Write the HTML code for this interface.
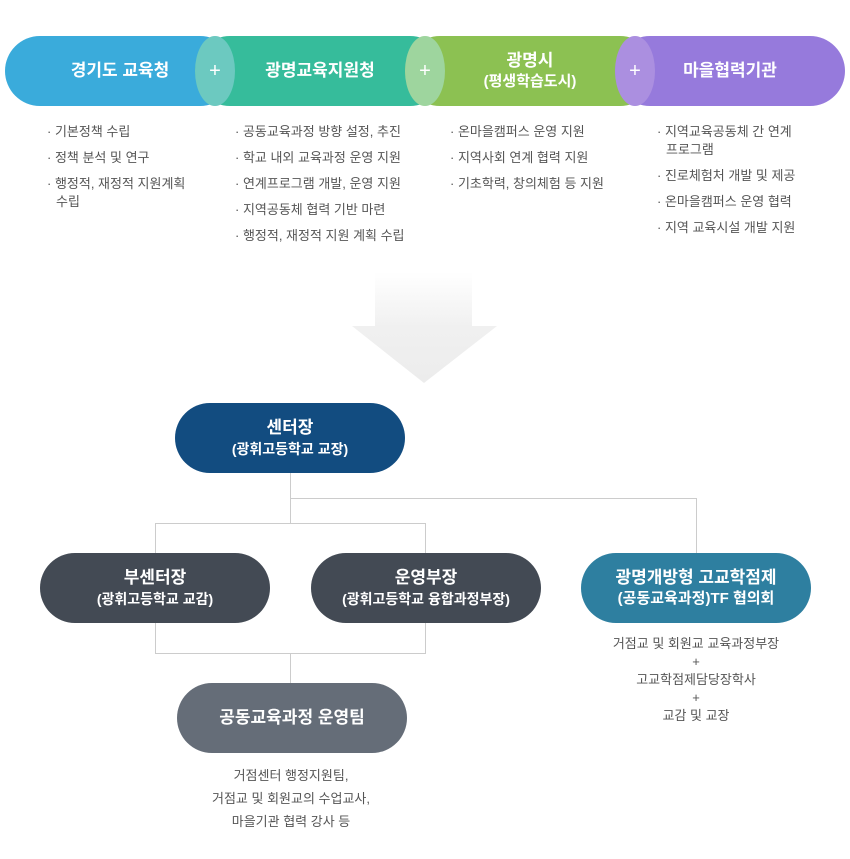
<!DOCTYPE html>
<html><head><meta charset="utf-8"><style>
body{margin:0;width:850px;height:859px;background:#fff;position:relative;font-family:"Liberation Sans","Noto Sans CJK KR",sans-serif;overflow:hidden}
.p{position:absolute;height:70px;border-radius:35px;color:#fff;font-weight:bold;display:flex;flex-direction:column;align-items:center;justify-content:center;text-align:center;font-size:17px;line-height:22px}
.p small{font-size:14px;display:block;line-height:20px}
.o{position:absolute;width:40px;height:70px;top:36px;border-radius:20px/35px;color:#fff;font-size:20px;display:flex;align-items:center;justify-content:center}
ul{position:absolute;margin:0;padding:0;list-style:none;font-size:13px;color:#555;line-height:18px;word-break:keep-all}
ul li{padding-left:9px;text-indent:-9px;margin-bottom:8px}
.l{position:absolute;background:#ccc}
.t{position:absolute;font-size:13px;color:#555;text-align:center;line-height:18px}
</style></head><body>
<div class="p" style="left:5px;top:36px;width:230px;background:#3aabdb">경기도 교육청</div>
<div class="p" style="left:195px;top:36px;width:250px;background:#36bc9b">광명교육지원청</div>
<div class="p" style="left:405px;top:36px;width:250px;background:#8cc152">광명시<small style="font-size:15px">(평생학습도시)</small></div>
<div class="p" style="left:615px;top:36px;width:230px;background:#967adc">마을협력기관</div>
<div class="o" style="left:195px;background:#6cc9c0">+</div>
<div class="o" style="left:405px;background:#9ed59e">+</div>
<div class="o" style="left:615px;background:#ab8fe0">+</div>
<ul style="left:47px;top:123px;width:160px"><li>· 기본정책 수립</li><li>· 정책 분석 및 연구</li><li>· 행정적, 재정적 지원계획 수립</li></ul>
<ul style="left:235px;top:123px;width:200px"><li>· 공동교육과정 방향 설정, 추진</li><li>· 학교 내외 교육과정 운영 지원</li><li>· 연계프로그램 개발, 운영 지원</li><li>· 지역공동체 협력 기반 마련</li><li>· 행정적, 재정적 지원 계획 수립</li></ul>
<ul style="left:450px;top:123px;width:200px"><li>· 온마을캠퍼스 운영 지원</li><li>· 지역사회 연계 협력 지원</li><li>· 기초학력, 창의체험 등 지원</li></ul>
<ul style="left:657px;top:123px;width:155px"><li>· 지역교육공동체 간 연계 프로그램</li><li>· 진로체험처 개발 및 제공</li><li>· 온마을캠퍼스 운영 협력</li><li>· 지역 교육시설 개발 지원</li></ul>
<svg style="position:absolute;left:0;top:0" width="850" height="859"><defs><linearGradient id="g" x1="0" y1="0" x2="0" y2="1"><stop offset="0" stop-color="#fff"/><stop offset="0.5" stop-color="#f0f0f0"/><stop offset="1" stop-color="#ececec"/></linearGradient></defs>
<polygon points="375,272 472,272 472,326 497,326 424,383 352,326 375,326" fill="url(#g)"/></svg>
<div class="l" style="left:290px;top:473px;width:1px;height:50px"></div>
<div class="l" style="left:290px;top:498px;width:406px;height:1px"></div>
<div class="l" style="left:696px;top:498px;width:1px;height:55px"></div>
<div class="l" style="left:155px;top:523px;width:271px;height:1px"></div>
<div class="l" style="left:155px;top:523px;width:1px;height:30px"></div>
<div class="l" style="left:425px;top:523px;width:1px;height:30px"></div>
<div class="l" style="left:155px;top:623px;width:1px;height:30px"></div>
<div class="l" style="left:425px;top:623px;width:1px;height:30px"></div>
<div class="l" style="left:155px;top:653px;width:271px;height:1px"></div>
<div class="l" style="left:290px;top:653px;width:1px;height:30px"></div>
<div class="p" style="left:175px;top:403px;width:230px;background:#124c80">센터장<small>(광휘고등학교 교장)</small></div>
<div class="p" style="left:40px;top:553px;width:230px;background:#434a54">부센터장<small>(광휘고등학교 교감)</small></div>
<div class="p" style="left:311px;top:553px;width:230px;background:#434a54">운영부장<small>(광휘고등학교 융합과정부장)</small></div>
<div class="p" style="left:581px;top:553px;width:230px;background:#2e7fa0">광명개방형 고교학점제<small style="font-size:15px">(공동교육과정)TF 협의회</small></div>
<div class="p" style="left:177px;top:683px;width:230px;background:#656d78">공동교육과정 운영팀</div>
<div class="t" style="left:560px;top:635px;width:272px">거점교 및 회원교 교육과정부장<br>+<br>고교학점제담당장학사<br>+<br>교감 및 교장</div>
<div class="t" style="left:160px;top:764px;width:262px;line-height:23px">거점센터 행정지원팀,<br>거점교 및 회원교의 수업교사,<br>마을기관 협력 강사 등</div>
</body></html>
